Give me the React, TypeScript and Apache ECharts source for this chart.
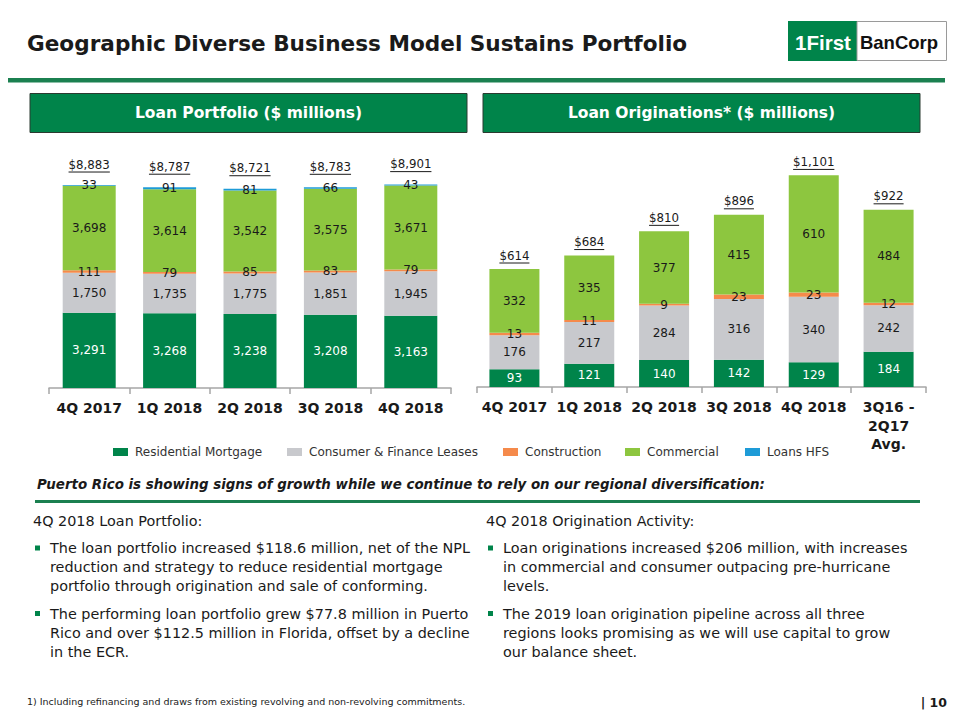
import React, { useEffect, useRef } from 'react';
import * as echarts from 'echarts';

// ---------- Data ----------
const portfolioQuarters = ['4Q 2017', '1Q 2018', '2Q 2018', '3Q 2018', '4Q 2018'];
const portfolioResidential = [3291, 3268, 3238, 3208, 3163];
const portfolioConsumer = [1750, 1735, 1775, 1851, 1945];
const portfolioConstruction = [111, 79, 85, 83, 79];
const portfolioCommercial = [3698, 3614, 3542, 3575, 3671];
const portfolioHFS = [33, 91, 81, 66, 43];
const portfolioTotals = [8883, 8787, 8721, 8783, 8901];

const originationPeriods = ['4Q 2017', '1Q 2018', '2Q 2018', '3Q 2018', '4Q 2018', '3Q16 -\n2Q17\nAvg.'];
const originationResidential = [93, 121, 140, 142, 129, 184];
const originationConsumer = [176, 217, 284, 316, 340, 242];
const originationConstruction = [13, 11, 9, 23, 23, 12];
const originationCommercial = [332, 335, 377, 415, 610, 484];
const originationTotals = [614, 684, 810, 896, 1101, 922];

const seriesNames = ['Residential Mortgage', 'Consumer & Finance Leases', 'Construction', 'Commercial', 'Loans HFS'];
const seriesColors = ['#00844A', '#C8C9CD', '#F58A4B', '#8DC63F', '#1E9BD7'];

const leftBullets = [
  ['The loan portfolio increased $118.6 million, net of the NPL', 'reduction and strategy to reduce residential mortgage', 'portfolio through origination and sale of conforming.'],
  ['The performing loan portfolio grew $77.8 million in Puerto', 'Rico and over $112.5 million in Florida, offset by a decline', 'in the ECR.'],
];
const rightBullets = [
  ['Loan originations increased $206 million, with increases', 'in commercial and consumer outpacing pre-hurricane', 'levels.'],
  ['The 2019 loan origination pipeline across all three', 'regions looks promising as we will use capital to grow', 'our balance sheet.'],
];

const FONT = '"DejaVu Sans", Verdana, sans-serif';
const TXT = '#1a1a1a';
const BODY = 14.4;

const fmt = (v: number) => v.toLocaleString('en-US');

let measureCtx: CanvasRenderingContext2D | null = null;
function measure(text: string, size: number) {
  if (!measureCtx) measureCtx = document.createElement('canvas').getContext('2d');
  if (!measureCtx) return text.length * size * 0.6;
  measureCtx.font = `${size}px ${FONT}`;
  return measureCtx.measureText(text).width;
}

function bar(name: string, data: number[], color: string, g: number, width: number, labelColor: string) {
  return {
    type: 'bar',
    name,
    stack: 'g' + g,
    xAxisIndex: g,
    yAxisIndex: g,
    barWidth: width,
    data,
    itemStyle: { color },
    label: {
      show: true,
      position: 'inside',
      formatter: (p: any) => fmt(p.value),
      color: labelColor,
      fontFamily: FONT,
      fontSize: 12,
    },
  };
}

function totals(data: number[], g: number, offset: number) {
  return {
    type: 'custom',
    xAxisIndex: g,
    yAxisIndex: g,
    z: 10,
    data: data.map((v, i) => [i, v]),
    renderItem: (params: any, api: any) => {
      const v = api.value(1);
      const pt = api.coord([api.value(0), v]);
      const txt = '$' + fmt(v);
      const w = measure(txt, 11.8);
      const cy = pt[1] - offset;
      return {
        type: 'group',
        children: [
          { type: 'text', style: { text: txt, x: pt[0], y: cy, align: 'center', verticalAlign: 'middle', fontSize: 11.8, fontFamily: FONT, fill: TXT } },
          { type: 'line', shape: { x1: pt[0] - w / 2, y1: cy + 7.5, x2: pt[0] + w / 2, y2: cy + 7.5 }, style: { stroke: TXT, lineWidth: 1 } },
        ],
      };
    },
  };
}

function xAxis(data: string[], g: number) {
  return {
    type: 'category',
    gridIndex: g,
    data,
    axisLine: { lineStyle: { color: '#A6A6A6', width: 1.5 } },
    axisTick: { show: true, length: 6, lineStyle: { color: '#A6A6A6', width: 1.5 } },
    axisLabel: { color: TXT, fontWeight: 'bold', fontSize: 14, fontFamily: FONT, margin: 11, lineHeight: 18.5, interval: 0 },
  };
}

function bulletBlock(x0: number, textX: number, title: string, bullets: string[][]) {
  const els: any[] = [];
  els.push({ type: 'text', x: x0, y: 521, style: { text: title, fontSize: BODY, fontFamily: FONT, fill: TXT, verticalAlign: 'middle' } });
  const starts = [548, 613.5];
  bullets.forEach((lines, bi) => {
    els.push({ type: 'rect', shape: { x: textX - 15, y: starts[bi] - 2.5, width: 5, height: 5 }, style: { fill: '#00844A' } });
    lines.forEach((ln, li) => {
      els.push({ type: 'text', x: textX, y: starts[bi] + li * 19.2, style: { text: ln, fontSize: BODY, fontFamily: FONT, fill: TXT, verticalAlign: 'middle' } });
    });
  });
  return els;
}

export default function App() {
  const ref = useRef<HTMLDivElement>(null);
  useEffect(() => {
    if (!ref.current) return;
    const chart = echarts.init(ref.current, undefined, { renderer: 'svg' });

    const legendLefts = [113, 287, 503, 625, 745];
    const legends = seriesNames.map((n, i) => ({
      data: [n],
      left: legendLefts[i],
      top: 446,
      padding: 0,
      itemWidth: 15,
      itemHeight: 8,
      itemGap: 0,
      icon: 'rect',
      selectedMode: false,
      textStyle: { fontSize: 12, fontFamily: FONT, color: '#333', padding: [0, 0, 0, 2] },
    }));

    const graphic: any[] = [
      { type: 'text', x: 27, y: 43, style: { text: 'Geographic Diverse Business Model Sustains Portfolio', fontSize: 21.6, fontWeight: 'bold', fontFamily: FONT, fill: TXT, verticalAlign: 'middle' } },
      // logo
      { type: 'rect', shape: { x: 788, y: 21, width: 69, height: 40 }, style: { fill: '#00844A' } },
      { type: 'rect', shape: { x: 857, y: 21.5, width: 89.5, height: 39 }, style: { fill: '#fff', stroke: '#9a9a9a', lineWidth: 1 } },
      { type: 'text', x: 823, y: 42, style: { text: '1First', fontSize: 20.5, fontWeight: 'bold', fontFamily: '"Liberation Sans", Arial, sans-serif', fill: '#fff', align: 'center', verticalAlign: 'middle' } },
      { type: 'text', x: 899, y: 42, style: { text: 'BanCorp', fontSize: 18.5, fontWeight: 'bold', fontFamily: '"Liberation Sans", Arial, sans-serif', fill: '#111', align: 'center', verticalAlign: 'middle' } },
      // rule under title
      { type: 'rect', shape: { x: 8, y: 78, width: 937, height: 4.5 }, style: { fill: '#1B8050' } },
      // header boxes
      { type: 'rect', shape: { x: 30, y: 93.5, width: 437, height: 39 }, style: { fill: '#00844A', stroke: '#2b3a30', lineWidth: 1 } },
      { type: 'text', x: 248.5, y: 113, style: { text: 'Loan Portfolio ($ millions)', fontSize: 15.5, fontWeight: 'bold', fontFamily: FONT, fill: '#fff', align: 'center', verticalAlign: 'middle' } },
      { type: 'rect', shape: { x: 483, y: 93.5, width: 437, height: 39 }, style: { fill: '#00844A', stroke: '#2b3a30', lineWidth: 1 } },
      { type: 'text', x: 701.5, y: 113, style: { text: 'Loan Originations* ($ millions)', fontSize: 15.5, fontWeight: 'bold', fontFamily: FONT, fill: '#fff', align: 'center', verticalAlign: 'middle' } },
      // italic statement
      { type: 'text', x: 37, y: 484, style: { text: 'Puerto Rico is showing signs of growth while we continue to rely on our regional diversification:', fontSize: 13.4, fontWeight: 'bold', fontStyle: 'italic', fontFamily: FONT, fill: TXT, verticalAlign: 'middle' } },
      { type: 'rect', shape: { x: 35, y: 500, width: 885, height: 3 }, style: { fill: '#1B8050' } },
      ...bulletBlock(33, 50, '4Q 2018 Loan Portfolio:', leftBullets),
      ...bulletBlock(486, 503, '4Q 2018 Origination Activity:', rightBullets),
      { type: 'text', x: 27, y: 701, style: { text: '1) Including refinancing and draws from existing revolving and non-revolving commitments.', fontSize: 9.5, fontFamily: FONT, fill: TXT, verticalAlign: 'middle' } },
      { type: 'text', x: 947, y: 702, style: { text: '| 10', fontSize: 12.5, fontWeight: 'bold', fontFamily: FONT, fill: TXT, align: 'right', verticalAlign: 'middle' } },
    ];

    const option: any = {
      animation: false,
      backgroundColor: '#fff',
      legend: legends,
      grid: [
        { left: 49, top: 159.5, width: 402, height: 228.5 },
        { left: 477, top: 156.4, width: 449, height: 230.6 },
      ],
      xAxis: [xAxis(portfolioQuarters, 0), xAxis(originationPeriods, 1)],
      yAxis: [
        { type: 'value', gridIndex: 0, min: 0, max: 10000, show: false },
        { type: 'value', gridIndex: 1, min: 0, max: 1200, show: false },
      ],
      series: [
        bar(seriesNames[0], portfolioResidential, seriesColors[0], 0, 53, '#fff'),
        bar(seriesNames[1], portfolioConsumer, seriesColors[1], 0, 53, TXT),
        bar(seriesNames[2], portfolioConstruction, seriesColors[2], 0, 53, TXT),
        bar(seriesNames[3], portfolioCommercial, seriesColors[3], 0, 53, TXT),
        bar(seriesNames[4], portfolioHFS, seriesColors[4], 0, 53, TXT),
        totals(portfolioTotals, 0, 20.5),
        bar(seriesNames[0], originationResidential, seriesColors[0], 1, 50, '#fff'),
        bar(seriesNames[1], originationConsumer, seriesColors[1], 1, 50, TXT),
        bar(seriesNames[2], originationConstruction, seriesColors[2], 1, 50, TXT),
        bar(seriesNames[3], originationCommercial, seriesColors[3], 1, 50, TXT),
        totals(originationTotals, 1, 13.5),
      ],
      graphic,
    };
    chart.setOption(option);
    return () => chart.dispose();
  }, []);
  return <div ref={ref} style={{ position: 'fixed', left: 0, top: 0, width: 960, height: 720, background: '#fff' }} />;
}
